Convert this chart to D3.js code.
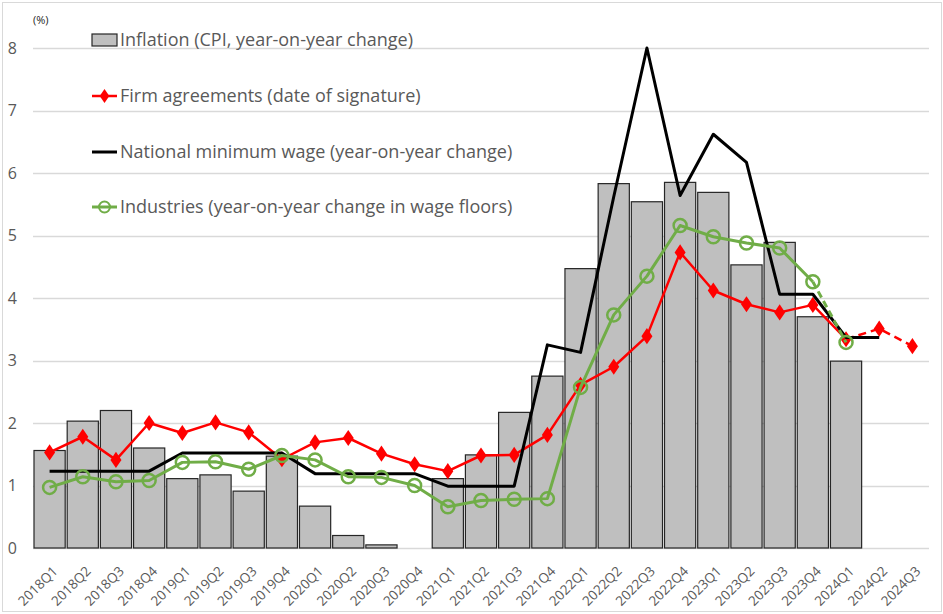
<!DOCTYPE html>
<html>
<head>
<meta charset="utf-8">
<script src="https://cdn.jsdelivr.net/npm/d3@7"></script>
<style>
  body { margin: 0; background: #fff; }
  svg { display: block; font-family: "Open Sans", sans-serif; }
</style>
</head>
<body>
<div id="chart"></div>
<script>
// Quarters on the x axis
const quarters = [
  '2018Q1', '2018Q2', '2018Q3', '2018Q4',
  '2019Q1', '2019Q2', '2019Q3', '2019Q4',
  '2020Q1', '2020Q2', '2020Q3', '2020Q4',
  '2021Q1', '2021Q2', '2021Q3', '2021Q4',
  '2022Q1', '2022Q2', '2022Q3', '2022Q4',
  '2023Q1', '2023Q2', '2023Q3', '2023Q4',
  '2024Q1', '2024Q2', '2024Q3'
];

// Inflation (CPI, year-on-year change) - bars
const inflation = [
  1.56, 2.03, 2.20, 1.60,
  1.11, 1.17, 0.91, 1.47,
  0.67, 0.20, 0.05, 0.00,
  1.11, 1.49, 2.17, 2.75,
  4.47, 5.83, 5.54, 5.85,
  5.69, 4.53, 4.89, 3.70,
  2.99, null, null
];

// Firm agreements (date of signature)
const firmAgreements = [
  1.53, 1.78, 1.41, 2.00,
  1.84, 2.01, 1.85, 1.42,
  1.69, 1.76, 1.51, 1.34,
  1.23, 1.48, 1.49, 1.81,
  2.61, 2.90, 3.39, 4.73,
  4.12, 3.90, 3.77, 3.89,
  3.34, 3.51, 3.23
];

// National minimum wage (year-on-year change)
const minimumWage = [
  1.23, 1.23, 1.23, 1.23,
  1.52, 1.52, 1.52, 1.52,
  1.19, 1.19, 1.19, 1.19,
  0.99, 0.99, 0.99, 3.25,
  3.13, 5.62, 8.00, 5.64,
  6.62, 6.17, 4.06, 4.06,
  3.37, 3.37, null
];

// Industries (year-on-year change in wage floors)
const industries = [
  0.97, 1.14, 1.06, 1.08,
  1.37, 1.38, 1.26, 1.48,
  1.41, 1.14, 1.13, 1.00,
  0.66, 0.76, 0.78, 0.79,
  2.57, 3.73, 4.35, 5.16,
  4.98, 4.88, 4.80, 4.26,
  3.29, null, null
];

// Index from which a series is drawn dashed
const firmDashFrom = 24;       // 2024Q1 onwards
const industriesDashFrom = 23; // 2023Q4 onwards

const yTicks = [0, 1, 2, 3, 4, 5, 6, 7, 8];

const legendLabels = [
  'Inflation (CPI, year-on-year change)',
  'Firm agreements (date of signature)',
  'National minimum wage (year-on-year change)',
  'Industries (year-on-year change in wage floors)'
];

const width = 943;
const height = 614;
const margins = { left: 33, right: 14, top: 48, bottom: 66 };

const textGrey = '#595959';
const gridGrey = '#d9d9d9';
const red = '#ff0000';
const green = '#70ad47';

const svg = d3.select('#chart')
  .append('svg')
  .attr('width', width)
  .attr('height', height);

// Outer chart border
svg.append('rect')
  .attr('x', 2.5)
  .attr('y', 2.5)
  .attr('width', width - 4)
  .attr('height', height - 5)
  .attr('fill', '#fff')
  .attr('stroke', gridGrey);

const x = d3.scaleBand()
  .domain(quarters)
  .range([margins.left, width - margins.right])
  .paddingInner(0.06)
  .paddingOuter(0.03);

const y = d3.scaleLinear()
  .domain([0, 8])
  .range([height - margins.bottom, margins.top]);

const cx = q => x(q) + x.bandwidth() / 2;

// Gridlines
svg.append('g')
  .selectAll('line')
  .data(yTicks)
  .join('line')
  .attr('x1', margins.left)
  .attr('x2', width - margins.right)
  .attr('y1', d => Math.round(y(d)) + 0.5)
  .attr('y2', d => Math.round(y(d)) + 0.5)
  .attr('stroke', gridGrey)
  .attr('stroke-width', 1.5);

// Y axis labels
const yAxis = svg.append('g')
  .attr('transform', `translate(${margins.left - 16}, 0)`)
  .call(d3.axisLeft(y).tickValues(yTicks).tickSize(0).tickPadding(0));
yAxis.select('.domain').remove();
yAxis.selectAll('text')
  .attr('fill', textGrey)
  .attr('font-size', 16)
  .attr('font-family', '"Open Sans", sans-serif');

svg.append('text')
  .attr('x', 33)
  .attr('y', 24)
  .attr('font-size', 11)
  .attr('fill', '#262626')
  .text('(%)');

// X axis labels
const xAxis = svg.append('g')
  .attr('transform', `translate(0, ${y(0)})`)
  .call(d3.axisBottom(x).tickSize(0).tickPadding(0));
xAxis.select('.domain').remove();
xAxis.selectAll('text')
  .attr('fill', textGrey)
  .attr('font-size', 13.5)
  .attr('font-family', '"Open Sans", sans-serif')
  .attr('text-anchor', 'end')
  .attr('dy', 0)
  .attr('transform', 'translate(9, 24) rotate(-45)');

// Inflation bars
svg.append('g')
  .selectAll('rect')
  .data(quarters.map((q, i) => ({ q, v: inflation[i] })).filter(d => d.v != null && d.v > 0))
  .join('rect')
  .attr('x', d => x(d.q))
  .attr('y', d => y(d.v))
  .attr('width', x.bandwidth())
  .attr('height', d => y(0) - y(d.v))
  .attr('fill', '#bfbfbf')
  .attr('stroke', '#262626')
  .attr('stroke-width', 1.2);

// Helper to draw a line series, with an optional dashed tail
function drawSeries(values, color, strokeWidth, dashFrom, dash) {
  const pts = quarters.map((q, i) => ({ q, i, v: values[i] })).filter(d => d.v != null);
  const line = d3.line().x(d => cx(d.q)).y(d => y(d.v));
  const solid = dashFrom == null ? pts : pts.filter(d => d.i <= dashFrom);
  svg.append('path')
    .attr('d', line(solid))
    .attr('fill', 'none')
    .attr('stroke', color)
    .attr('stroke-width', strokeWidth)
    .attr('stroke-linejoin', 'round');
  if (dashFrom != null) {
    svg.append('path')
      .attr('d', line(pts.filter(d => d.i >= dashFrom)))
      .attr('fill', 'none')
      .attr('stroke', color)
      .attr('stroke-width', strokeWidth)
      .attr('stroke-dasharray', dash);
  }
  return pts;
}

// Firm agreements
const firmPts = drawSeries(firmAgreements, red, 2.5, firmDashFrom, '8,5');
svg.append('g')
  .selectAll('path')
  .data(firmPts)
  .join('path')
  .attr('d', d3.symbol(d3.symbolDiamond, 105))
  .attr('transform', d => `translate(${cx(d.q)}, ${y(d.v)}) scale(1, 0.85)`)
  .attr('fill', red);

// National minimum wage
drawSeries(minimumWage, '#000', 3, null);

// Industries
const indPts = drawSeries(industries, green, 3, industriesDashFrom, '7,4');
svg.append('g')
  .selectAll('circle')
  .data(indPts)
  .join('circle')
  .attr('cx', d => cx(d.q))
  .attr('cy', d => y(d.v))
  .attr('r', 6.5)
  .attr('fill', 'none')
  .attr('stroke', green)
  .attr('stroke-width', 2.5);

// Legend
const legend = svg.append('g');
const legendY = [40, 96, 152, 207];
const symX0 = 92;
const symX1 = 117;

legend.append('rect')
  .attr('x', symX0)
  .attr('y', legendY[0] - 6)
  .attr('width', symX1 - symX0)
  .attr('height', 12)
  .attr('fill', '#bfbfbf')
  .attr('stroke', '#262626')
  .attr('stroke-width', 1.2);

legend.append('line')
  .attr('x1', symX0).attr('x2', symX1)
  .attr('y1', legendY[1]).attr('y2', legendY[1])
  .attr('stroke', red).attr('stroke-width', 2.5);
legend.append('path')
  .attr('d', d3.symbol(d3.symbolDiamond, 80))
  .attr('transform', `translate(${(symX0 + symX1) / 2}, ${legendY[1]}) scale(1, 0.85)`)
  .attr('fill', red);

legend.append('line')
  .attr('x1', symX0).attr('x2', symX1)
  .attr('y1', legendY[2]).attr('y2', legendY[2])
  .attr('stroke', '#000').attr('stroke-width', 3);

legend.append('line')
  .attr('x1', symX0).attr('x2', symX1)
  .attr('y1', legendY[3]).attr('y2', legendY[3])
  .attr('stroke', green).attr('stroke-width', 3);
legend.append('circle')
  .attr('cx', (symX0 + symX1) / 2)
  .attr('cy', legendY[3])
  .attr('r', 5.5)
  .attr('fill', 'none')
  .attr('stroke', green)
  .attr('stroke-width', 2);

legend.selectAll('text')
  .data(legendLabels)
  .join('text')
  .attr('x', 120)
  .attr('y', (d, i) => legendY[i])
  .attr('dy', '0.35em')
  .attr('font-size', 18)
  .attr('fill', textGrey)
  .text(d => d);
</script>
</body>
</html>
